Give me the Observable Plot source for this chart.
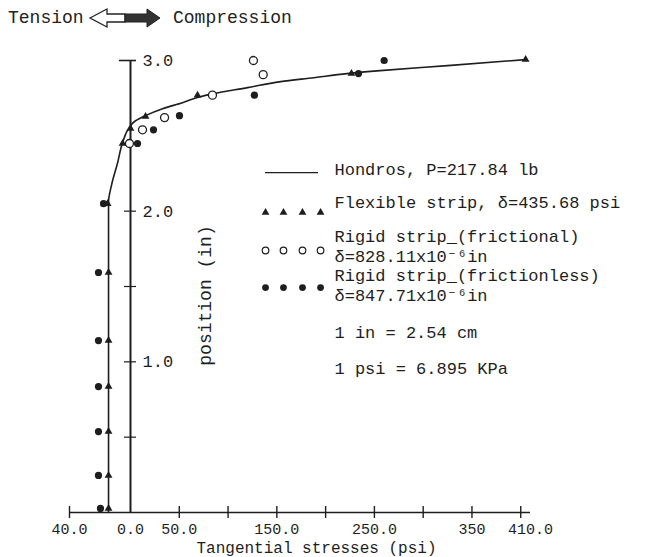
<!DOCTYPE html>
<html><head><meta charset="utf-8">
<script src="https://cdn.jsdelivr.net/npm/d3@7"></script>
<script src="https://cdn.jsdelivr.net/npm/@observablehq/plot@0.6"></script>
<style>
body{margin:0;background:#fff;}
#wrap{width:648px;height:557px;position:relative;font-family:"Liberation Mono","Courier New",monospace;color:#222;overflow:hidden;}
#header{height:36px;position:relative;font-size:18px;line-height:20px;}
#header span{position:absolute;top:8px;}
#chart svg{display:block;}
</style></head><body>
<div id="wrap">
<div id="header">
  <span style="left:8px;">Tension</span>
  <svg style="position:absolute;left:88px;top:6px" width="76" height="26">
    <polygon points="2,12 19,3 19,8 37,8 37,16 19,16 19,21" fill="#fff" stroke="#222" stroke-width="1.3"/>
    <polygon points="37,8 59,8 59,3 72,12 59,21 59,16 37,16" fill="#333" stroke="#222" stroke-width="1"/>
  </svg>
  <span style="left:173px;">Compression</span>
</div>
<div id="chart"></div>
</div>
<script>
// Hondros theoretical curve
const hondrosPosition = [0, 2.06, 2.17, 2.32, 2.455, 2.548, 2.60, 2.634, 2.68, 2.72, 2.754, 2.78, 2.82, 2.86, 2.886, 2.913, 2.933, 2.966, 3.006];
const hondrosStress   = [-14.4, -14.4, -12.5, -8.5, -5.2, -1.3, 5.1, 15.4, 32.8, 53.3, 68.7, 85, 120, 154, 188, 222, 256, 325, 405];
// Flexible strip (triangles)
const flexPosition = [0.027, 0.246, 0.537, 0.836, 1.141, 1.593, 2.05, 2.449, 2.548, 2.628, 2.77, 2.913, 3.006];
const flexStress   = [-14.4, -14.4, -14.4, -14.4, -14.4, -14.4, -15, -5.2, 0, 15.4, 68.7, 226.5, 405];
// Rigid strip frictional (open circles)
const fricPosition = [2.449, 2.54, 2.621, 2.77, 2.906, 3.0];
const fricStress   = [-0.7, 12.3, 34.9, 84, 136, 126];
// Rigid strip frictionless (filled circles)
const frlessPosition = [0.027, 0.246, 0.537, 0.836, 1.141, 1.593, 2.05, 2.449, 2.54, 2.634, 2.77, 2.913, 3.0];
const frlessStress   = [-19.7, -21, -21, -21, -21, -21, -17.7, 7.2, 23.6, 50.2, 127, 233.7, 260];

// Axis ticks and labels
const xTickMarks = [-40, 50, 100, 150, 200, 250, 300, 350, 400];
const xLabelValues = [-40, 0, 50, 150, 250, 350, 410];
const xLabels = ["40.0", "0.0", "50.0", "150.0", "250.0", "350", "410.0"];
const yTickMarks = [0.5, 1.0, 1.5, 2.0];
const yLabelValues = [1.0, 2.0, 3.0];
const yLabels = ["1.0", "2.0", "3.0"];

const legendTexts = [
  "Hondros, P=217.84 lb",
  "Flexible strip, δ=435.68 psi",
  "Rigid strip_(frictional)",
  "δ=828.11x10⁻⁶in",
  "Rigid strip_(frictionless)",
  "δ=847.71x10⁻⁶in",
  "1 in = 2.54 cm",
  "1 psi = 6.895 KPa"
];
const legendTextOffsets = [133, 166, 200, 220, 239, 259, 296, 332];
const legendSampleX = [138.4, 156.8, 176.3, 194.8];

const toRows = (xs, ys) => xs.map((x, i) => ({stress: x, position: ys[i]}));
const hondros = toRows(hondrosStress, hondrosPosition);
const flex = toRows(flexStress, flexPosition);
const fric = toRows(fricStress, fricPosition);
const frless = toRows(frlessStress, frlessPosition);

const ink = "#1e1e1e";
const font = "'Liberation Mono','Courier New',monospace";
// the drawn axis uses a stretched scale on the tension (negative) side
const tensionStretch = (61 / 40) / (400 / 410);
const stretchX = v => v < 0 ? v * tensionStretch : v;

const chart = Plot.plot({
  width: 648,
  height: 521,
  margin: 0,
  style: {fontFamily: font, fontSize: "18px", color: ink, background: "#fff"},
  x: {transform: stretchX, domain: [stretchX(-40), 410], range: [69, 530], axis: null},
  y: {domain: [0, 3], range: [476, 24], axis: null},
  marks: [
    // axes
    Plot.ruleY([0], {x1: -40, x2: 410, stroke: ink, strokeWidth: 1.4}),
    Plot.ruleX([0], {y1: 0, y2: 3, stroke: ink, strokeWidth: 2}),
    Plot.ruleX(xTickMarks, {x: d => d, y1: 0, y2: 0, insetTop: -6, insetBottom: -6, stroke: ink, strokeWidth: 1.4}),
    Plot.ruleY(yTickMarks, {y: d => d, x1: 0, x2: 0, insetLeft: -6, insetRight: -6, stroke: ink, strokeWidth: 1.2}),
    Plot.ruleY([3], {y: d => d, x1: 0, x2: 0, insetLeft: -11, insetRight: -6, stroke: ink, strokeWidth: 1.6}),
    Plot.text(xLabelValues, {x: d => d, y: 0, text: (d, i) => xLabels[i], dy: 17, fontSize: 15, fill: ink}),
    Plot.text(yLabelValues, {x: 0, y: d => d, text: (d, i) => yLabels[i], textAnchor: "start", dx: 12, fontSize: 17, fill: ink}),
    Plot.text(["Tangential stresses (psi)"], {text: d => d, frameAnchor: "bottom", lineAnchor: "bottom", dx: -8, dy: -5, fontSize: 16, fill: ink}),
    Plot.text(["position (in)"], {text: d => d, frameAnchor: "top-left", dx: 205, dy: 259, rotate: -90, textAnchor: "middle", lineAnchor: "middle", fill: ink}),
    // Hondros curve
    Plot.line(hondros, {x: "stress", y: "position", curve: "monotone-y", stroke: ink, strokeWidth: 1.6}),
    // data points
    Plot.dot(frless, {x: "stress", y: "position", r: 3.6, fill: ink, stroke: "none"}),
    Plot.dot(fric, {x: "stress", y: "position", r: 4, fill: "#fff", stroke: ink, strokeWidth: 1.3}),
    Plot.dot(flex, {x: "stress", y: "position", symbol: "triangle", r: 2.9, fill: ink, stroke: "none"}),
    // legend
    Plot.ruleY([2.256], {y: d => d, x1: 138.4, x2: 192.7, stroke: ink, strokeWidth: 1.3}),
    Plot.dot(legendSampleX, {x: d => d, y: 1.991, symbol: "triangle", r: 2.9, fill: ink, stroke: "none"}),
    Plot.dot(legendSampleX, {x: d => d, y: 1.739, r: 3.3, fill: "#fff", stroke: ink, strokeWidth: 1.2}),
    Plot.dot(legendSampleX, {x: d => d, y: 1.493, r: 3.4, fill: ink, stroke: "none"}),
    ...legendTexts.map((t, i) => Plot.text([t], {text: d => d, frameAnchor: "top-left", dx: 334, dy: legendTextOffsets[i], textAnchor: "start", lineAnchor: "middle", fontSize: 17, fill: ink}))
  ]
});
document.getElementById("chart").appendChild(chart);
</script>
</body></html>
